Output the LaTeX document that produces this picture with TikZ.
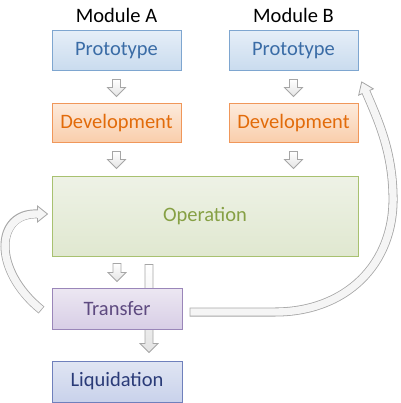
\documentclass[tikz,border=0pt]{standalone}
\usepackage{fontspec}
\setmainfont{Carlito}
\usetikzlibrary{calc}
\pgfdeclarelayer{background}
\pgfsetlayers{background,main}
\definecolor{pFillT}{HTML}{E5EEF8}\definecolor{pFillB}{HTML}{C9DBEE}
\definecolor{pLine}{HTML}{7EA6D0}\definecolor{pText}{HTML}{3A6CA6}
\definecolor{dFillT}{HTML}{FDEADB}\definecolor{dFillB}{HTML}{F9CDAA}
\definecolor{dLine}{HTML}{F0975A}\definecolor{dText}{HTML}{E26B0A}
\definecolor{oFillT}{HTML}{EEF2E6}\definecolor{oFillB}{HTML}{E0E8D0}
\definecolor{oLine}{HTML}{A8C170}\definecolor{oText}{HTML}{86A044}
\definecolor{tFillT}{HTML}{ECE7F2}\definecolor{tFillB}{HTML}{D8CEE6}
\definecolor{tLine}{HTML}{9A86B9}\definecolor{tText}{HTML}{5E4A80}
\definecolor{lFillT}{HTML}{E0E5F3}\definecolor{lFillB}{HTML}{C9D2EB}
\definecolor{lLine}{HTML}{6F80BC}\definecolor{lText}{HTML}{2A3B78}
\definecolor{aLine}{HTML}{A6A6A6}\definecolor{aFill}{HTML}{E4E4E4}
\newcommand\blockdown[2]{%
  \draw[blockarrow] ($(#1)+(-4,0)$) -- ($(#1)+(4,0)$) -- ($(#2)+(4,-9)$) -- ($(#2)+(9,-9)$) -- (#2) -- ($(#2)+(-9,-9)$) -- ($(#2)+(-4,-9)$) -- cycle;}
\begin{document}
\begin{tikzpicture}[x=1pt,y=-1pt,
  txt/.style={font=\fontsize{20.5}{23}\selectfont},
  box/.style={rectangle, inner sep=0pt, line width=1pt, font=\fontsize{20.5}{23}\selectfont},
  proto/.style={box, minimum width=129pt, minimum height=40pt, draw=pLine, top color=pFillT, bottom color=pFillB, text=pText},
  devel/.style={box, minimum width=129pt, minimum height=39pt, draw=dLine, top color=dFillT, bottom color=dFillB, text=dText},
  oper/.style={box, minimum width=306pt, minimum height=80pt, draw=oLine, top color=oFillT, bottom color=oFillB, text=oText},
  trans/.style={box, minimum width=130pt, minimum height=41pt, draw=tLine, top color=tFillT, bottom color=tFillB, text=tText},
  liq/.style={box, minimum width=130pt, minimum height=41pt, draw=lLine, top color=lFillT, bottom color=lFillB, text=lText},
  blockarrow/.style={draw=aLine, line width=0.8pt, top color=white, bottom color=aFill, line join=miter},
  outer/.style={draw=aLine, line width=9pt},
  inner/.style={draw=white!96!black, line width=7.4pt, shorten <=0.8pt, shorten >=-1.2pt},
  headst/.style={draw=aLine, fill=white!96!black, line width=0.8pt, line join=miter}]
\useasboundingbox (0,0) rectangle (400,403);
\node[txt] (ma) at (116.5,15) {Module A};
\node[txt] (mb) at (293.5,15) {Module B};
\node[proto] (pa) at (116.5,51) {Prototype};
\node[proto] (pb) at (293.5,51) {Prototype};
\node[devel] (da) at (116.5,123.5) {Development};
\node[devel] (db) at (293.5,123.5) {Development};
\node[oper] (op) at (205,216) {Operation};
\node[trans] (tr) at (117,308.5) {Transfer};
\node[liq] (lq) at (117,381.5) {Liquidation};
\coordinate (a1s) at ($(pa.south)+(0,8)$);
\coordinate (a1e) at ($(da.north)+(0,-7)$);
\coordinate (b1s) at ($(pb.south)+(0,8)$);
\coordinate (b1e) at ($(db.north)+(0,-7)$);
\coordinate (a2s) at ($(da.south)+(0,8)$);
\coordinate (a2e) at ($(op.north)+(-88.5,-7)$);
\coordinate (b2s) at ($(db.south)+(0,8)$);
\coordinate (b2e) at ($(op.north)+(88.5,-7)$);
\coordinate (a3s) at ($(tr.north)+(0,-24)$);
\coordinate (a3e) at ($(tr.north)+(0,-6)$);
\coordinate (ls) at ($(op.south)+(-56,8)$);
\coordinate (le) at ($(lq.north)+(32,-8)$);
\coordinate (lt) at ($(tr.west)+(-10,1.5)$);
\coordinate (lh) at ($(op.west)+(-14,-2)$);
\coordinate (rt) at ($(tr.east)+(7,3.5)$);
\coordinate (rh) at (366,92);
\begin{pgfonlayer}{background}
\blockdown{a1s}{a1e}
\blockdown{b1s}{b1e}
\blockdown{a2s}{a2e}
\blockdown{b2s}{b2e}
\blockdown{a3s}{a3e}
\blockdown{ls}{le}
% left curved arrow
\draw[outer] (lt) .. controls (-8,270) and (-5,212) .. (lh);
\draw[headst] ($(lh)+(0,-8)$) -- ($(lh)+(10,0)$) -- ($(lh)+(0,8)$) -- cycle;
\draw[inner] (lt) .. controls (-8,270) and (-5,212) .. (lh);
% right curved arrow
\draw[outer] (rt) -- (275,312) .. controls (345,312) and (395,265) .. (393,195) .. controls (392,150) and (378,120) .. (rh);
\draw[headst] ($(rh)+(7.35,-3.15)$) -- ($(rh)+(-4.3,-10.1)$) -- ($(rh)+(-7.35,3.15)$) -- cycle;
\draw[inner] (rt) -- (275,312) .. controls (345,312) and (395,265) .. (393,195) .. controls (392,150) and (378,120) .. (rh);
\end{pgfonlayer}
\end{tikzpicture}
\end{document}
